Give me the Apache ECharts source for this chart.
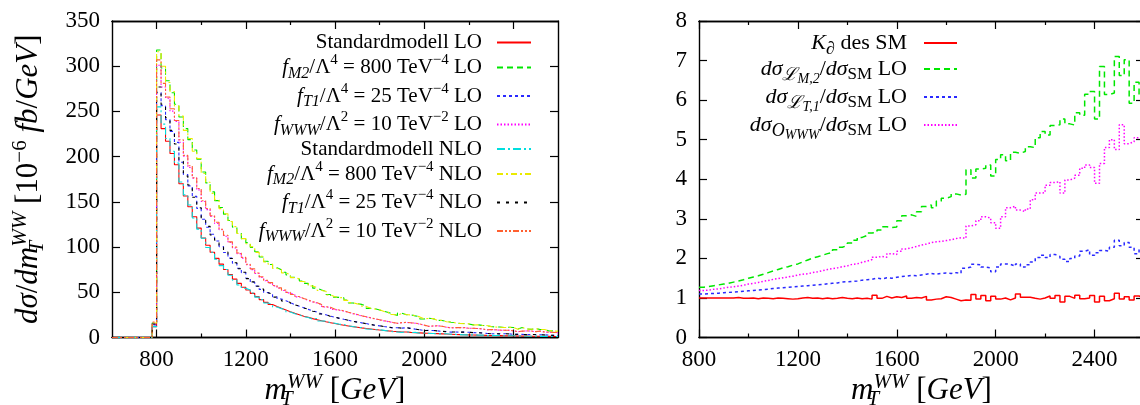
<!DOCTYPE html>
<html>
<head>
<meta charset="utf-8">
<script src="https://cdn.jsdelivr.net/npm/echarts@6/dist/echarts.min.js"></script>
<style>
  html, body { margin: 0; padding: 0; background: #ffffff; }
  #chart { width: 1140px; height: 405px; }
</style>
</head>
<body>
<div id="chart"></div>
<script>
// ---------------------------------------------------------------------------
// Histogram data: 20 GeV bins in transverse WW mass.
// Left panel: bins start at 600 GeV, right panel: bins start at 800 GeV.
// ---------------------------------------------------------------------------
const BIN_WIDTH = 20;
const LEFT_START = 600;
const RIGHT_START = 800;

// dσ/dm_T^WW [1e-6 fb/GeV]
const smLO = [0,0,0,0,0,0,0,0,0,12,
  246,231,217,203.5,191,170,156.5,144.6,133.5,121,
  110,102,94.3,87.5,81.1,75.2,69.7,64.6,59.9,55.5,
  52.6,48.8,45.2,41.9,38.8,36.5,34.3,32.3,30.4,28.5,
  26.8,25.2,23.6,22.3,20.9,19.7,18.5,17.4,16.4,15.4,
  14.4,13.6,12.8,12.0,11.3,10.6,9.94,9.38,8.81,8.29,
  7.79,7.32,6.88,6.47,6.08,6.0,5.67,5.37,5.08,4.81,
  4.74,4.48,4.24,4.01,3.79,3.59,3.40,3.21,3.04,2.87,
  2.74,2.61,2.49,2.37,2.26,2.15,2.05,1.95,1.86,1.77,
  1.69,1.61,1.54,1.46,1.39,1.33,1.27,1.21,1.15,1.10];

const m2LO = [0,0,0,0,0,0,0,0,0,16,
  318,298,284,270.7,257.9,243.9,231,218.8,207.3,197.3,
  183.0,171.0,161.0,151.4,143.8,136.4,129.4,122.1,115.6,109.1,
  104.9,99.7,94.8,89.1,84.3,80.8,77.0,74.8,72.2,69.3,
  66.7,64.7,62.4,59.9,57.5,54.6,52.5,50.8,47.5,44.7,
  44.4,43.8,41.4,38.2,37.5,36.6,34.8,32.2,31.8,30.4,
  29.0,27.7,25.8,24.4,26.9,25.2,25.2,23.9,23.1,20.4,
  21.3,20.7,19.0,18.8,17.7,16.9,16.4,15.4,15.4,15.0,
  14.0,14.0,13.4,13.1,12.2,11.5,11.6,11.0,11.4,11.0,
  9.3,11.0,9.5,9.0,9.9,8.8,8.9,7.2,7.4,6.7];

const t1LO = [0,0,0,0,0,0,0,0,0,14,
  271,256.4,240.9,227.9,215.8,193.8,180.3,167.7,156.1,142.8,
  130.7,122.0,114.1,106.7,100.5,94.0,87.8,82.1,76.6,71.6,
  65.5,61.1,57.0,53.2,49.7,47.5,45.0,42.6,40.7,38.5,
  36.3,34.5,32.8,31.1,29.4,28.2,26.1,25.1,23.5,22.4,
  21.3,20.2,19.2,17.9,17.1,16.2,15.4,14.3,13.6,12.9,
  12.1,11.5,10.6,10.8,10.4,10.8,10.1,9.25,8.66,7.74,
  7.85,7.75,7.29,6.71,6.56,5.94,6.07,5.95,5.96,5.79,
  5.36,5.32,4.95,4.55,4.21,4.17,4.09,4.12,4.01,3.57,
  3.51,3.43,3.26,3.23,3.32,3.0,2.96,2.68,2.37,2.37];

const wwwLO = [0,0,0,0,0,0,0,0,0,15,
  301,277,264.7,250.3,238.8,215.9,200.6,188.0,176.2,163.3,
  150.4,141.4,133.9,126.0,119.2,112.0,105.2,98.9,92.8,87.8,
  80.5,75.1,70.8,66.4,62.7,60.1,57.1,54.4,52.0,49.4,
  47.3,44.9,42.9,41.1,39.3,38.2,36.3,33.8,33.2,30.9,
  30.1,29.2,27.8,26.3,25.3,23.8,22.8,21.7,20.5,19.4,
  18.4,17.5,16.5,15.5,16.4,16.6,16.2,15.8,14.9,13.5,
  12.2,12.7,12.9,12.4,11.3,10.6,10.8,10.9,10.8,10.2,
  10.2,9.9,9.5,8.4,8.7,8.4,8.1,8.1,7.9,7.4,
  6.4,6.9,7.2,7.1,6.4,7.0,6.0,5.8,5.6,5.3];

const smNLO = [0,0,0,0,0,0,0,0,0,12,
  255,236,220,206,193,171.9,157.7,146.5,132.2,119.8,
  109.8,99.6,94.3,86.6,79.5,75.2,68.9,63.4,58.1,54.5,
  52.6,49.2,44.7,41.9,38.1,36.5,33.7,31.9,30.6,28.2,
  26.2,25.2,23.2,22.1,20.2,21.1,18.3,18.1,16.4,15.8,
  14.6,14.3,12.7,12.1,11.3,11.0,9.48,9.11,8.64,8.54,
  7.87,7.10,6.40,6.15,5.71,6.54,5.50,5.69,4.72,5.0,
  4.60,4.48,4.03,4.01,4.17,3.66,3.47,3.18,2.95,2.87,
  2.88,2.58,2.64,2.13,2.35,2.13,2.19,1.91,1.86,1.88,
  1.52,1.67,1.43,1.43,1.56,1.29,1.31,1.15,1.21,1.10];

const m2NLO = [0,0,0,0,0,0,0,0,0,16,
  316,300,282,272,256,245,229,220,206,198,
  181.3,171.7,159.4,152,142.5,136.8,128.3,122.6,115,109.3,
  103.7,100.3,94.1,89.8,83.5,81.1,76.3,75.4,71.5,69.6,
  66.2,64.8,61.9,60.3,56.9,55.1,52.0,51.2,47.0,45.1,
  44.0,44.1,41.0,38.6,37.2,36.9,34.4,32.4,31.5,30.6,
  28.7,28.0,25.5,24.7,26.5,25.5,24.9,24.2,22.8,20.7,
  21.0,20.9,18.8,19.0,17.5,17.1,16.2,15.6,15.2,15.2,
  13.8,14.1,13.2,13.3,12.0,11.6,11.4,11.1,11.2,11.1,
  9.2,11.1,9.4,9.1,9.7,8.9,8.8,7.3,7.3,6.8];

const t1NLO = [0,0,0,0,0,0,0,0,0,15,
  277,258,243,229,214,194.8,178.6,168.7,155.1,143.5,
  129.6,122.9,113.4,107.6,99.9,94.5,87.3,82.6,76.1,72.2,
  65.1,61.5,56.6,53.6,49.4,47.9,44.6,42.9,40.4,38.7,
  36.1,34.8,32.6,31.3,29.1,28.5,26.0,25.3,23.3,22.5,
  21.1,20.3,19.0,18.0,16.9,16.4,15.2,14.5,13.5,13.1,
  12.0,11.6,10.6,10.9,10.3,10.9,10.0,9.3,8.56,7.81,
  7.77,7.81,7.21,6.79,6.49,6.0,6.01,6.01,5.90,5.85,
  5.31,5.36,4.90,4.60,4.17,4.21,4.05,4.16,3.97,3.61,
  3.47,3.47,3.23,3.26,3.29,3.03,2.93,2.71,2.35,2.39];

const wwwNLO = [0,0,0,0,0,0,0,0,0,17,
  307,281,266,253,240,218.7,201.4,189.9,176.7,164.7,
  151.2,142.7,134.6,127.4,119.7,113.0,105.8,99.9,93.4,88.6,
  81.0,75.9,71.3,67.1,63.2,60.7,57.5,54.9,52.4,49.9,
  47.6,45.3,43.2,41.5,39.6,38.5,36.5,34.1,33.4,31.2,
  30.4,29.5,28.0,26.6,25.5,24.1,23.0,21.9,20.7,19.6,
  18.6,17.7,16.6,15.7,16.5,16.7,16.3,16.0,15.0,13.7,
  12.4,12.8,13.0,12.5,11.4,10.7,10.9,11.0,10.9,10.3,
  10.3,10.0,9.6,8.5,8.8,8.5,8.2,8.1,8.0,7.5,
  6.5,7.0,7.3,7.2,6.5,7.1,6.1,5.9,5.7,5.4];

// Ratios (right panel), bins from 800 GeV
const kFactorSM = [
  1.00,1.00,1.00,1.00,1.00,1.00,1.00,1.01,0.99,0.99,
  1.00,0.98,1.00,0.99,0.98,1.00,0.99,0.98,0.97,0.98,
  1.00,1.01,0.99,1.00,0.98,1.00,0.98,0.99,1.01,0.99,
  0.98,1.00,0.98,0.99,0.97,1.07,0.99,1.04,1.00,1.03,
  1.01,1.05,0.99,1.01,1.00,1.04,0.95,0.97,0.98,1.03,
  1.01,0.97,0.93,0.95,0.94,1.09,0.97,1.06,0.93,1.04,
  0.97,1.00,0.95,1.00,1.10,1.02,1.02,0.99,0.97,1.00,
  1.05,0.99,1.06,0.90,1.04,0.99,1.07,0.98,1.00,1.06,
  0.90,1.04,0.93,0.98,1.12,0.97,1.03,0.95,1.05,1.00];

const ratioM2 = [
  1.27,1.29,1.31,1.33,1.35,1.37,1.40,1.43,1.46,1.50,
  1.53,1.56,1.60,1.64,1.68,1.72,1.76,1.79,1.83,1.86,
  1.91,1.96,2.01,2.04,2.08,2.12,2.15,2.22,2.28,2.33,
  2.39,2.46,2.53,2.58,2.64,2.66,2.72,2.80,2.78,2.79,
  2.95,3.08,3.10,3.06,3.18,3.31,3.35,3.28,3.45,3.52,
  3.56,3.63,3.60,3.62,4.24,4.03,4.26,4.28,4.36,4.08,
  4.50,4.62,4.47,4.68,4.66,4.70,4.82,4.80,5.05,5.21,
  5.12,5.36,5.38,5.52,5.40,5.37,5.68,5.62,6.15,6.22,
  5.52,6.85,6.14,6.18,7.10,6.62,7.02,5.92,6.45,6.10];

const ratioT1 = [
  1.10,1.11,1.11,1.12,1.13,1.14,1.15,1.16,1.17,1.18,
  1.19,1.20,1.21,1.22,1.24,1.25,1.26,1.27,1.28,1.29,
  1.30,1.31,1.32,1.33,1.34,1.36,1.37,1.38,1.40,1.41,
  1.42,1.43,1.45,1.46,1.47,1.50,1.48,1.51,1.50,1.52,
  1.54,1.55,1.57,1.56,1.58,1.60,1.62,1.60,1.62,1.63,
  1.62,1.64,1.62,1.75,1.78,1.85,1.84,1.78,1.76,1.66,
  1.78,1.86,1.85,1.80,1.86,1.78,1.84,1.91,2.02,2.08,
  2.02,2.10,2.05,1.98,1.92,2.00,2.06,2.18,2.22,2.08,
  2.14,2.20,2.18,2.28,2.46,2.32,2.40,2.28,2.12,2.22];

const ratioWWW = [
  1.19,1.20,1.22,1.23,1.25,1.27,1.28,1.30,1.32,1.35,
  1.37,1.39,1.42,1.44,1.47,1.49,1.51,1.53,1.55,1.58,
  1.60,1.61,1.64,1.66,1.69,1.72,1.74,1.76,1.79,1.81,
  1.85,1.86,1.90,1.93,1.97,2.03,2.05,2.03,2.12,2.10,
  2.18,2.24,2.27,2.30,2.34,2.36,2.40,2.42,2.43,2.45,
  2.47,2.50,2.52,2.51,2.82,2.85,2.95,3.05,3.02,2.90,
  2.76,3.05,3.28,3.32,3.22,3.18,3.25,3.48,3.65,3.66,
  3.85,3.92,3.94,3.65,3.98,4.03,4.10,4.28,4.36,4.30,
  3.90,4.40,4.80,5.00,4.75,5.38,4.90,4.95,5.05,5.00];

// Tick values
const leftMajorX = [800, 1200, 1600, 2000, 2400];
const leftMinorX = [1000, 1400, 1800, 2200];
const rightMajorX = [800, 1200, 1600, 2000, 2400];
const rightMinorX = [1000, 1400, 1800, 2200, 2600];

// ---------------------------------------------------------------------------
const SERIF = 'Liberation Serif';

// Turn per-bin values into step-line vertices (left edge of each bin + closing edge)
function stepPoints(start, values) {
  const pts = values.map((v, i) => [start + i * BIN_WIDTH, v]);
  pts.push([start + values.length * BIN_WIDTH, values[values.length - 1]]);
  return pts;
}

const leftSeries = [
  { name: 'smLO',   data: smLO,   color: '#ff0000', dash: 'solid' },
  { name: 'm2LO',   data: m2LO,   color: '#00e600', dash: [6, 4] },
  { name: 't1LO',   data: t1LO,   color: '#2a2aff', dash: [3, 3] },
  { name: 'wwwLO',  data: wwwLO,  color: '#ff00ff', dash: [1.5, 2] },
  { name: 'smNLO',  data: smNLO,  color: '#00dede', dash: [8, 3, 2, 3] },
  { name: 'm2NLO',  data: m2NLO,  color: '#eaea00', dash: [6, 3, 2, 3] },
  { name: 't1NLO',  data: t1NLO,  color: '#000000', dash: [3, 6] },
  { name: 'wwwNLO', data: wwwNLO, color: '#ff6030', dash: [6, 2, 2, 2, 2, 2] }
];

const rightSeries = [
  { name: 'kSM',   data: kFactorSM, color: '#ff0000', dash: 'solid', width: 1.5 },
  { name: 'rM2',   data: ratioM2,   color: '#00e600', dash: [6, 4],  width: 1.5 },
  { name: 'rT1',   data: ratioT1,   color: '#2a2aff', dash: [3, 3],  width: 1.5 },
  { name: 'rWWW',  data: ratioWWW,  color: '#ff00ff', dash: [1.5, 2], width: 1.5 }
];

const legendLabels = {
  smLO:   'Standardmodell LO{g|}',
  m2LO:   '{i|f}{sb|M2}/Λ{sp|4} = 800 TeV{sp|−4} LO{g|}',
  t1LO:   '{i|f}{sb|T1}/Λ{sp|4} = 25 TeV{sp|−4} LO{g|}',
  wwwLO:  '{i|f}{sb|WWW}/Λ{sp|2} = 10 TeV{sp|−2} LO{g|}',
  smNLO:  'Standardmodell NLO{g|}',
  m2NLO:  '{i|f}{sb|M2}/Λ{sp|4} = 800 TeV{sp|−4} NLO{g|}',
  t1NLO:  '{i|f}{sb|T1}/Λ{sp|4} = 25 TeV{sp|−4} NLO{g|}',
  wwwNLO: '{i|f}{sb|WWW}/Λ{sp|2} = 10 TeV{sp|−2} NLO{g|}',
  kSM:    '{i|K}{sb|∂} des SM{g2|}',
  rM2:    '{i|d}{i|σ}{sb|ℒ}{ssb|M,2}/{i|d}{i|σ}{sbr|SM} LO{g2|}',
  rT1:    '{i|d}{i|σ}{sb|ℒ}{ssb|T,1}/{i|d}{i|σ}{sbr|SM} LO{g2|}',
  rWWW:   '{i|d}{i|σ}{sb|O}{ssb|WWW}/{i|d}{i|σ}{sbr|SM} LO{g2|}'
};

// Rich-text styles for the keys; "height" sets the box a sub/superscript is
// aligned in, which controls how far it sits below/above the main line.
function keyRich(base, sub, subsub) {
  return {
    i:   { fontFamily: SERIF, fontStyle: 'italic', fontSize: base, lineHeight: 21, color: '#000' },
    sb:  { fontFamily: SERIF, fontStyle: 'italic', fontSize: sub, height: 9, lineHeight: 9, verticalAlign: 'bottom', color: '#000' },
    ssb: { fontFamily: SERIF, fontStyle: 'italic', fontSize: subsub, height: 1, lineHeight: 1, verticalAlign: 'bottom', color: '#000' },
    sbr: { fontFamily: SERIF, fontSize: sub - 1, height: 9, lineHeight: 9, verticalAlign: 'bottom', color: '#000' },
    sp:  { fontFamily: SERIF, fontSize: sub - 1, height: 7, lineHeight: 7, verticalAlign: 'top', color: '#000' },
    g:   { width: 10 },
    g2:  { width: 12 }
  };
}

const titleRich = {
  i:   { fontFamily: SERIF, fontStyle: 'italic', fontSize: 31, lineHeight: 38, color: '#000' },
  sp:  { fontFamily: SERIF, fontStyle: 'italic', fontSize: 21, lineHeight: 22, verticalAlign: 'top', color: '#000' },
  spr: { fontFamily: SERIF, fontSize: 21, lineHeight: 22, verticalAlign: 'top', color: '#000' },
  sb0: { fontFamily: SERIF, fontStyle: 'italic', fontSize: 21, lineHeight: 22, verticalAlign: 'bottom', width: 0, color: '#000' }
};

const axisLine = { onZero: false, lineStyle: { color: '#000', width: 1.4 } };
const tickStyle = { color: '#000', width: 1.2 };
const labelStyle = { fontFamily: SERIF, fontSize: 23, color: '#000', formatter: v => String(v) };
const titleStyle = { fontFamily: SERIF, fontSize: 31, lineHeight: 38, color: '#000', rich: titleRich };

function xAxesFor(gridIndex, min, max, major, minor, title) {
  const base = { type: 'value', gridIndex, min, max, splitLine: { show: false }, axisLine };
  return [
    Object.assign({}, base, {
      position: 'bottom',
      axisTick: { inside: true, length: 8, customValues: major, lineStyle: tickStyle },
      axisLabel: Object.assign({ customValues: major, margin: 11 }, labelStyle),
      name: title, nameLocation: 'middle', nameGap: 34, nameMoveOverlap: false,
      nameTextStyle: titleStyle
    }),
    Object.assign({}, base, {
      position: 'bottom',
      axisTick: { inside: true, length: 4, customValues: minor, lineStyle: tickStyle },
      axisLabel: { show: false }
    }),
    Object.assign({}, base, {
      position: 'top',
      axisTick: { inside: true, length: 8, customValues: major, lineStyle: tickStyle },
      axisLabel: { show: false }
    }),
    Object.assign({}, base, {
      position: 'top',
      axisTick: { inside: true, length: 4, customValues: minor, lineStyle: tickStyle },
      axisLabel: { show: false }
    })
  ];
}

function yAxesFor(gridIndex, max, interval, name) {
  const base = { type: 'value', gridIndex, min: 0, max, interval, splitLine: { show: false }, axisLine };
  const left = Object.assign({}, base, {
    position: 'left',
    axisTick: { inside: true, length: 8, lineStyle: tickStyle },
    axisLabel: Object.assign({ margin: 12 }, labelStyle)
  });
  if (name) {
    Object.assign(left, {
      name, nameLocation: 'middle', nameRotate: 90, nameGap: 64, nameMoveOverlap: false,
      nameTextStyle: titleStyle
    });
  }
  const right = Object.assign({}, base, {
    position: 'right',
    axisTick: { inside: true, length: 8, lineStyle: tickStyle },
    axisLabel: { show: false }
  });
  return [left, right];
}

function makeSeries(defs, start, xAxisIndex, yAxisIndex, defaultWidth) {
  return defs.map(d => ({
    name: d.name,
    type: 'line',
    step: 'end',
    xAxisIndex, yAxisIndex,
    data: stepPoints(start, d.data),
    symbol: 'none',
    showSymbol: false,
    silent: true,
    lineStyle: { color: d.color, width: d.width || defaultWidth, type: d.dash },
    itemStyle: { color: d.color },
    emphasis: { disabled: true }
  }));
}

const X_TITLE = '{i|m}{sb0|T}{sp|WW} [{i|GeV}]';
const Y_TITLE = '{i|dσ}/{i|dm}{sb0|T}{sp|WW} [10{spr|−6} {i|fb}/{i|GeV}]';

const xAxes = xAxesFor(0, 600, 2600, leftMajorX, leftMinorX, X_TITLE)
  .concat(xAxesFor(1, 800, 2600, rightMajorX, rightMinorX, X_TITLE));

const yAxes = yAxesFor(0, 350, 50, Y_TITLE).concat(yAxesFor(1, 8, 1, null));

// Vertical key: text right-aligned, line sample to its right
function keyLegend(names, right, itemWidth, base, sub, subsub) {
  return {
    orient: 'vertical',
    align: 'right',
    right, top: 32, itemWidth,
    padding: 0,
    itemGap: 0,
    itemHeight: 2,
    selectedMode: false,
    itemStyle: { opacity: 0, borderWidth: 0 },
    data: names,
    formatter: name => legendLabels[name],
    textStyle: { fontFamily: SERIF, fontSize: base, lineHeight: 21, color: '#000', rich: keyRich(base, sub, subsub) }
  };
}

const option = {
  animation: false,
  backgroundColor: '#ffffff',
  grid: [
    { left: 112, top: 21, width: 446, height: 316.5, containLabel: false, outerBoundsMode: 'none' },
    { left: 699, top: 21, width: 445, height: 316.5, containLabel: false, outerBoundsMode: 'none' }
  ],
  xAxis: xAxes,
  yAxis: yAxes,
  legend: [
    keyLegend(leftSeries.map(s => s.name), 608, 34, 21, 16, 12),
    keyLegend(rightSeries.map(s => s.name), 182, 33, 22, 18, 14)
  ],
  series: makeSeries(leftSeries, LEFT_START, 0, 0, 1.1)
    .concat(makeSeries(rightSeries, RIGHT_START, 4, 2, 1.5))
};

const chart = echarts.init(document.getElementById('chart'), null, { renderer: 'canvas' });
chart.setOption(option);
</script>
</body>
</html>
